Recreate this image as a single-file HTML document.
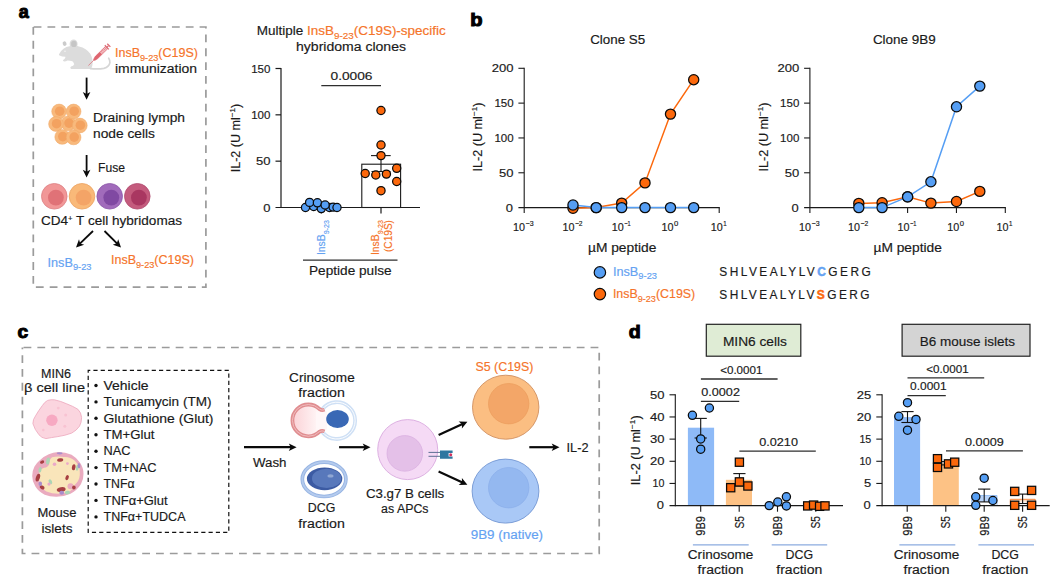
<!DOCTYPE html>
<html><head><meta charset="utf-8"><title>Figure</title>
<style>html,body{margin:0;padding:0;background:#fff;}svg{display:block;}text{font-family:"Liberation Sans",sans-serif;}</style>
</head><body>
<svg width="1059" height="580" viewBox="0 0 1059 580">
<rect width="1059" height="580" fill="#fff"/>
<text x="18.8" y="17.6" font-size="18" fill="#000" text-anchor="start" font-weight="bold" stroke="#000" stroke-width="1.0">a</text>
<path d="M33.3 27 V287.2 H205.9 V27 H33.3" fill="none" stroke="#9b9b9b" stroke-width="1.7" stroke-dasharray="7.8 6.03"/>
<g fill="#dcdcdc" stroke="none">
<path d="M59 54.2 Q60.5 51 63.5 48.8 Q66.5 46 70 46.2 Q74 44.8 79 46.4 Q86.5 48 90.5 54 Q93.5 60 92.3 65.8 Q91.8 68 90.5 69 L71 69 Q69.5 68 71 66.6 Q73.5 66 74.2 64.3 Q73.6 62.3 72.4 61.2 Q70 60.6 67.5 60.4 Q65 62 63 61 Q62.6 59.8 64.5 59 Q65.5 58 65.4 56.8 Q62 56.8 59.6 55.6 Q58.7 55 59 54.2Z"/>
<ellipse cx="73.6" cy="43.9" rx="4" ry="4.3"/>
<ellipse cx="73.9" cy="43.9" rx="2.8" ry="3.2" fill="#c6c6c6"/>
<ellipse cx="64.6" cy="43.6" rx="1.9" ry="2.3" fill="#cbcbcb" transform="rotate(-20 64.6 43.6)"/>
<circle cx="65" cy="51.3" r="0.8" fill="#f4f4f4"/>
</g>
<path d="M90.5 68.6 Q98 69.4 103.9 68.4 Q109.2 66.8 109.9 62.6 Q110 60.2 108.7 58.2" fill="none" stroke="#d6d6d6" stroke-width="1.7" stroke-linecap="round"/>
<g transform="translate(88.4,65.5) rotate(-44.6)">
<line x1="0" y1="0" x2="9" y2="0" stroke="#de7a82" stroke-width="0.8"/>
<path d="M8 -0.7 L11.5 -1.6 H25.6 V1.6 H11.5 L8 0.7Z" fill="#f4bcc0" stroke="#dc6b75" stroke-width="0.7"/>
<path d="M8 -0.7 L11.5 -1.6 H17.5 V1.6 H11.5 L8 0.7Z" fill="#df6670"/>
<line x1="19" y1="-1.6" x2="19" y2="0.6" stroke="#dc6b75" stroke-width="0.6"/>
<line x1="20.8" y1="-1.6" x2="20.8" y2="0.6" stroke="#dc6b75" stroke-width="0.6"/>
<line x1="22.6" y1="-1.6" x2="22.6" y2="0.6" stroke="#dc6b75" stroke-width="0.6"/>
<line x1="24.2" y1="-1.6" x2="24.2" y2="0.6" stroke="#dc6b75" stroke-width="0.6"/>
<line x1="25.9" y1="-2.9" x2="25.9" y2="2.9" stroke="#dc6b75" stroke-width="1.2"/>
<line x1="25.9" y1="0" x2="28.3" y2="0" stroke="#dc6b75" stroke-width="1.2"/>
<line x1="28.7" y1="-2.2" x2="28.7" y2="2.2" stroke="#dc6b75" stroke-width="1.3"/>
</g>
<text x="115" y="57" font-size="12.3" fill="#F5742A" text-anchor="start" font-weight="normal" textLength="83" lengthAdjust="spacingAndGlyphs"  stroke="#F5742A" stroke-width="0.16">InsB<tspan font-size="9" dy="3.7">9-23</tspan><tspan dy="-3.7" font-size="1">&#8203;</tspan>(C19S)</text>
<text x="115" y="72.5" font-size="12.3" fill="#1a1a1a" text-anchor="start" font-weight="normal" textLength="82" lengthAdjust="spacingAndGlyphs"  stroke="#1a1a1a" stroke-width="0.16">immunization</text>
<line x1="86.6" y1="77.6" x2="86.6" y2="94.4" stroke="#0a0a0a" stroke-width="1.8"/>
<path d="M86.6 99.8 L82.8 92.0 L86.6 93.9 L90.4 92.0 Z" fill="#0a0a0a"/>
<circle cx="68.4" cy="123.4" r="7.4" fill="#f8b97c" stroke="#efa968" stroke-width="0.5"/>
<circle cx="69.0" cy="123.10000000000001" r="4.8" fill="#f3a260"/>
<circle cx="59.1" cy="111.5" r="7.4" fill="#f8b97c" stroke="#efa968" stroke-width="0.5"/>
<circle cx="59.7" cy="111.2" r="4.8" fill="#f3a260"/>
<circle cx="73.6" cy="111.5" r="7.4" fill="#f8b97c" stroke="#efa968" stroke-width="0.5"/>
<circle cx="74.19999999999999" cy="111.2" r="4.8" fill="#f3a260"/>
<circle cx="56" cy="124" r="7.4" fill="#f8b97c" stroke="#efa968" stroke-width="0.5"/>
<circle cx="56.6" cy="123.7" r="4.8" fill="#f3a260"/>
<circle cx="79.8" cy="125.5" r="7.4" fill="#f8b97c" stroke="#efa968" stroke-width="0.5"/>
<circle cx="80.39999999999999" cy="125.2" r="4.8" fill="#f3a260"/>
<circle cx="62.2" cy="136.9" r="7.4" fill="#f8b97c" stroke="#efa968" stroke-width="0.5"/>
<circle cx="62.800000000000004" cy="136.6" r="4.8" fill="#f3a260"/>
<circle cx="73.6" cy="137.4" r="7.4" fill="#f8b97c" stroke="#efa968" stroke-width="0.5"/>
<circle cx="74.19999999999999" cy="137.1" r="4.8" fill="#f3a260"/>
<text x="93" y="121.5" font-size="12.3" fill="#1a1a1a" text-anchor="start" font-weight="normal" textLength="92" lengthAdjust="spacingAndGlyphs"  stroke="#1a1a1a" stroke-width="0.16">Draining lymph</text>
<text x="93" y="137.5" font-size="12.3" fill="#1a1a1a" text-anchor="start" font-weight="normal" textLength="62" lengthAdjust="spacingAndGlyphs"  stroke="#1a1a1a" stroke-width="0.16">node cells</text>
<line x1="86.6" y1="155.0" x2="86.6" y2="172.2" stroke="#0a0a0a" stroke-width="1.8"/>
<path d="M86.6 177.6 L82.8 169.8 L86.6 171.7 L90.4 169.8 Z" fill="#0a0a0a"/>
<text x="98" y="172" font-size="12.3" fill="#1a1a1a" text-anchor="start" font-weight="normal" textLength="27" lengthAdjust="spacingAndGlyphs"  stroke="#1a1a1a" stroke-width="0.16">Fuse</text>
<circle cx="54.3" cy="196.3" r="12.8" fill="#f19797" stroke="#dc8084" stroke-width="0.8"/>
<circle cx="55.9" cy="197.6" r="7.9" fill="#e07277"/>
<circle cx="82" cy="196.3" r="12.8" fill="#f9b979" stroke="#eba261" stroke-width="0.8"/>
<circle cx="83.6" cy="197.6" r="7.9" fill="#f4a467"/>
<circle cx="109.7" cy="196.3" r="12.8" fill="#a16bbb" stroke="#8d58aa" stroke-width="0.8"/>
<circle cx="111.3" cy="197.6" r="7.9" fill="#8049a2"/>
<circle cx="137.3" cy="196.3" r="12.8" fill="#c45b7d" stroke="#b04a6e" stroke-width="0.8"/>
<circle cx="138.9" cy="197.6" r="7.9" fill="#a93761"/>
<text x="41" y="225" font-size="12.3" fill="#1a1a1a" text-anchor="start" font-weight="normal" textLength="141" lengthAdjust="spacingAndGlyphs"  stroke="#1a1a1a" stroke-width="0.16">CD4<tspan font-size="7" dy="-4.5">+</tspan><tspan dy="4.5" font-size="1">&#8203;</tspan> T cell hybridomas</text>
<line x1="93.0" y1="231.0" x2="79.9" y2="243.7" stroke="#0a0a0a" stroke-width="1.8"/>
<path d="M76.0 247.5 L79.0 239.3 L80.2 243.4 L84.2 244.8 Z" fill="#0a0a0a"/>
<line x1="104.5" y1="231.0" x2="117.2" y2="243.7" stroke="#0a0a0a" stroke-width="1.8"/>
<path d="M121.0 247.5 L112.8 244.7 L116.8 243.3 L118.2 239.3 Z" fill="#0a0a0a"/>
<text x="47.5" y="266.5" font-size="12.3" fill="#64A2F2" text-anchor="start" font-weight="normal" textLength="44" lengthAdjust="spacingAndGlyphs"  stroke="#64A2F2" stroke-width="0.16">InsB<tspan font-size="9" dy="3.7">9-23</tspan><tspan dy="-3.7" font-size="1">&#8203;</tspan></text>
<text x="111" y="264" font-size="12.3" fill="#F5742A" text-anchor="start" font-weight="normal" textLength="83" lengthAdjust="spacingAndGlyphs"  stroke="#F5742A" stroke-width="0.16">InsB<tspan font-size="9" dy="3.7">9-23</tspan><tspan dy="-3.7" font-size="1">&#8203;</tspan>(C19S)</text>
<text x="256.8" y="35" font-size="12.3" fill="#1a1a1a" text-anchor="start" font-weight="normal" textLength="189" lengthAdjust="spacingAndGlyphs"  stroke="#1a1a1a" stroke-width="0.16">Multiple <tspan fill="#F5742A" stroke="#F5742A" stroke-width="0.16">InsB<tspan font-size="9" dy="3.7">9-23</tspan><tspan dy="-3.7" font-size="1">&#8203;</tspan>(C19S)-specific</tspan></text>
<text x="351" y="51" font-size="12.3" fill="#1a1a1a" text-anchor="middle" font-weight="normal" textLength="110" lengthAdjust="spacingAndGlyphs"  stroke="#1a1a1a" stroke-width="0.16">hybridoma clones</text>
<line x1="281" y1="67.9" x2="281" y2="208.1" stroke="#1a1a1a" stroke-width="1.2" />
<line x1="275.5" y1="207.5" x2="420" y2="207.5" stroke="#1a1a1a" stroke-width="1.2" />
<line x1="275.5" y1="161.16666666666666" x2="281" y2="161.16666666666666" stroke="#1a1a1a" stroke-width="1.2" />
<line x1="275.5" y1="114.83333333333333" x2="281" y2="114.83333333333333" stroke="#1a1a1a" stroke-width="1.2" />
<line x1="275.5" y1="68.5" x2="281" y2="68.5" stroke="#1a1a1a" stroke-width="1.2" />
<text x="270.4" y="211.8" font-size="11" fill="#1a1a1a" text-anchor="end" font-weight="normal" textLength="7.2" lengthAdjust="spacingAndGlyphs"  stroke="#1a1a1a" stroke-width="0.16">0</text>
<text x="270.4" y="165.46666666666667" font-size="11" fill="#1a1a1a" text-anchor="end" font-weight="normal" textLength="14.5" lengthAdjust="spacingAndGlyphs"  stroke="#1a1a1a" stroke-width="0.16">50</text>
<text x="270.4" y="119.13333333333333" font-size="11" fill="#1a1a1a" text-anchor="end" font-weight="normal" textLength="19.2" lengthAdjust="spacingAndGlyphs"  stroke="#1a1a1a" stroke-width="0.16">100</text>
<text x="270.4" y="72.8" font-size="11" fill="#1a1a1a" text-anchor="end" font-weight="normal" textLength="19.2" lengthAdjust="spacingAndGlyphs"  stroke="#1a1a1a" stroke-width="0.16">150</text>
<line x1="321.3" y1="207.5" x2="321.3" y2="213.5" stroke="#1a1a1a" stroke-width="1.2" />
<line x1="381" y1="207.5" x2="381" y2="213.5" stroke="#1a1a1a" stroke-width="1.2" />
<text transform="translate(239.7,138) rotate(-90)" font-size="12.3" fill="#1a1a1a" text-anchor="middle" textLength="68.5" lengthAdjust="spacingAndGlyphs" stroke="#1a1a1a" stroke-width="0.16">IL-2 (U ml<tspan font-size="8" dy="-4.5">&#8722;1</tspan><tspan dy="4.5" font-size="1">&#8203;</tspan>)</text>
<rect x="361.8" y="164.2" width="38.8" height="43.3" fill="#fff" stroke="#1a1a1a" stroke-width="1.1"/>
<line x1="381" y1="155.6" x2="381" y2="171.5" stroke="#1a1a1a" stroke-width="1.1" />
<line x1="371" y1="155.6" x2="390.7" y2="155.6" stroke="#1a1a1a" stroke-width="1.1" />
<line x1="371.5" y1="171.5" x2="390.5" y2="171.5" stroke="#1a1a1a" stroke-width="1.1" />
<text x="351.5" y="80" font-size="11" fill="#1a1a1a" text-anchor="middle" font-weight="normal" textLength="42" lengthAdjust="spacingAndGlyphs"  stroke="#1a1a1a" stroke-width="0.16">0.0006</text>
<line x1="321.3" y1="85.6" x2="381" y2="85.6" stroke="#2e2e2e" stroke-width="1.3" />
<circle cx="305.5" cy="207.5" r="4.1" fill="#559EF4" stroke="#0a0a0a" stroke-width="1.25" />
<circle cx="313.7" cy="206.5" r="4.1" fill="#559EF4" stroke="#0a0a0a" stroke-width="1.25" />
<circle cx="309.6" cy="202.4" r="4.1" fill="#559EF4" stroke="#0a0a0a" stroke-width="1.25" />
<circle cx="321.3" cy="208.6" r="4.1" fill="#559EF4" stroke="#0a0a0a" stroke-width="1.25" />
<circle cx="317.4" cy="202.8" r="4.1" fill="#559EF4" stroke="#0a0a0a" stroke-width="1.25" />
<circle cx="329.5" cy="207.5" r="4.1" fill="#559EF4" stroke="#0a0a0a" stroke-width="1.25" />
<circle cx="333.1" cy="207.1" r="4.1" fill="#559EF4" stroke="#0a0a0a" stroke-width="1.25" />
<circle cx="337.0" cy="207.5" r="4.1" fill="#559EF4" stroke="#0a0a0a" stroke-width="1.25" />
<circle cx="325.1" cy="205.0" r="4.1" fill="#559EF4" stroke="#0a0a0a" stroke-width="1.25" />
<circle cx="381.0" cy="110.5" r="4.1" fill="#FC680C" stroke="#0a0a0a" stroke-width="1.25" />
<circle cx="381.0" cy="145.0" r="4.1" fill="#FC680C" stroke="#0a0a0a" stroke-width="1.25" />
<circle cx="381.0" cy="155.6" r="4.1" fill="#FC680C" stroke="#0a0a0a" stroke-width="1.25" />
<circle cx="396.7" cy="168.3" r="4.1" fill="#FC680C" stroke="#0a0a0a" stroke-width="1.25" />
<circle cx="365.2" cy="173.5" r="4.1" fill="#FC680C" stroke="#0a0a0a" stroke-width="1.25" />
<circle cx="375.8" cy="175.0" r="4.1" fill="#FC680C" stroke="#0a0a0a" stroke-width="1.25" />
<circle cx="386.4" cy="174.1" r="4.1" fill="#FC680C" stroke="#0a0a0a" stroke-width="1.25" />
<circle cx="396.7" cy="181.5" r="4.1" fill="#FC680C" stroke="#0a0a0a" stroke-width="1.25" />
<circle cx="381.0" cy="190.7" r="4.1" fill="#FC680C" stroke="#0a0a0a" stroke-width="1.25" />
<text transform="translate(324.5,255.1) rotate(-90)" font-size="11.3" fill="#64A2F2" textLength="35" lengthAdjust="spacingAndGlyphs" stroke="#64A2F2" stroke-width="0.16">InsB<tspan font-size="7.7" dy="4.3">9-23</tspan><tspan dy="-4.3" font-size="1">&#8203;</tspan></text>
<text transform="translate(378.9,255.1) rotate(-90)" font-size="11.3" fill="#F5742A" textLength="35" lengthAdjust="spacingAndGlyphs" stroke="#F5742A" stroke-width="0.16">InsB<tspan font-size="7.7" dy="4.3">9-23</tspan><tspan dy="-4.3" font-size="1">&#8203;</tspan></text>
<text transform="translate(391.8,252) rotate(-90)" font-size="11.3" fill="#F5742A" textLength="32" lengthAdjust="spacingAndGlyphs" stroke="#F5742A" stroke-width="0.16">(C19S)</text>
<line x1="303" y1="260.2" x2="397.5" y2="260.2" stroke="#2e2e2e" stroke-width="1.3" />
<text x="350.3" y="274.5" font-size="12.3" fill="#1a1a1a" text-anchor="middle" font-weight="normal" textLength="82.6" lengthAdjust="spacingAndGlyphs"  stroke="#1a1a1a" stroke-width="0.16">Peptide pulse</text>
<text x="470.2" y="25.5" font-size="18" fill="#000" text-anchor="start" font-weight="bold" textLength="12.3" lengthAdjust="spacingAndGlyphs" stroke="#000" stroke-width="1.0">b</text>
<text x="617.7" y="44" font-size="12.3" fill="#1a1a1a" text-anchor="middle" font-weight="normal" textLength="55" lengthAdjust="spacingAndGlyphs"  stroke="#1a1a1a" stroke-width="0.16">Clone S5</text>
<line x1="524.2" y1="67.75" x2="524.2" y2="213.0" stroke="#1a1a1a" stroke-width="1.1" />
<line x1="518.4000000000001" y1="207.6" x2="719.75" y2="207.6" stroke="#1a1a1a" stroke-width="1.1" />
<line x1="518.4000000000001" y1="172.77499999999998" x2="524.2" y2="172.77499999999998" stroke="#1a1a1a" stroke-width="1.1" />
<line x1="518.4000000000001" y1="137.95" x2="524.2" y2="137.95" stroke="#1a1a1a" stroke-width="1.1" />
<line x1="518.4000000000001" y1="103.125" x2="524.2" y2="103.125" stroke="#1a1a1a" stroke-width="1.1" />
<line x1="518.4000000000001" y1="68.29999999999998" x2="524.2" y2="68.29999999999998" stroke="#1a1a1a" stroke-width="1.1" />
<text x="512.9000000000001" y="211.5" font-size="11" fill="#1a1a1a" text-anchor="end" font-weight="normal" textLength="7.2" lengthAdjust="spacingAndGlyphs"  stroke="#1a1a1a" stroke-width="0.16">0</text>
<text x="513.6" y="176.67499999999998" font-size="11" fill="#1a1a1a" text-anchor="end" font-weight="normal" textLength="14.5" lengthAdjust="spacingAndGlyphs"  stroke="#1a1a1a" stroke-width="0.16">50</text>
<text x="513.6" y="141.85" font-size="11" fill="#1a1a1a" text-anchor="end" font-weight="normal" textLength="19.2" lengthAdjust="spacingAndGlyphs"  stroke="#1a1a1a" stroke-width="0.16">100</text>
<text x="513.6" y="107.025" font-size="11" fill="#1a1a1a" text-anchor="end" font-weight="normal" textLength="19.2" lengthAdjust="spacingAndGlyphs"  stroke="#1a1a1a" stroke-width="0.16">150</text>
<text x="513.6" y="72.19999999999999" font-size="11" fill="#1a1a1a" text-anchor="end" font-weight="normal" textLength="21.8" lengthAdjust="spacingAndGlyphs"  stroke="#1a1a1a" stroke-width="0.16">200</text>
<text x="513.1" y="230.8" font-size="11" fill="#1a1a1a" text-anchor="start" font-weight="normal" textLength="12.0" lengthAdjust="spacingAndGlyphs"  stroke="#1a1a1a" stroke-width="0.16">10</text>
<text x="525.6" y="225.6" font-size="7" fill="#1a1a1a" text-anchor="start" font-weight="normal" textLength="8.0" lengthAdjust="spacingAndGlyphs"  stroke="#1a1a1a" stroke-width="0.16">&#8722;3</text>
<line x1="572.95" y1="207.6" x2="572.95" y2="213.0" stroke="#1a1a1a" stroke-width="1.1" />
<text x="562.4" y="230.8" font-size="11" fill="#1a1a1a" text-anchor="start" font-weight="normal" textLength="12.0" lengthAdjust="spacingAndGlyphs"  stroke="#1a1a1a" stroke-width="0.16">10</text>
<text x="574.9" y="225.6" font-size="7" fill="#1a1a1a" text-anchor="start" font-weight="normal" textLength="7.6000000000000005" lengthAdjust="spacingAndGlyphs"  stroke="#1a1a1a" stroke-width="0.16">&#8722;2</text>
<line x1="621.7" y1="207.6" x2="621.7" y2="213.0" stroke="#1a1a1a" stroke-width="1.1" />
<text x="611.8" y="230.8" font-size="11" fill="#1a1a1a" text-anchor="start" font-weight="normal" textLength="12.0" lengthAdjust="spacingAndGlyphs"  stroke="#1a1a1a" stroke-width="0.16">10</text>
<text x="624.3" y="225.6" font-size="7" fill="#1a1a1a" text-anchor="start" font-weight="normal" textLength="6.4" lengthAdjust="spacingAndGlyphs"  stroke="#1a1a1a" stroke-width="0.16">&#8722;1</text>
<line x1="670.45" y1="207.6" x2="670.45" y2="213.0" stroke="#1a1a1a" stroke-width="1.1" />
<text x="661.55" y="230.8" font-size="11" fill="#1a1a1a" text-anchor="start" font-weight="normal" textLength="12.0" lengthAdjust="spacingAndGlyphs"  stroke="#1a1a1a" stroke-width="0.16">10</text>
<text x="674.05" y="225.6" font-size="7" fill="#1a1a1a" text-anchor="start" font-weight="normal" textLength="4.3" lengthAdjust="spacingAndGlyphs"  stroke="#1a1a1a" stroke-width="0.16">0</text>
<line x1="719.2" y1="207.6" x2="719.2" y2="213.0" stroke="#1a1a1a" stroke-width="1.1" />
<text x="710.8" y="230.8" font-size="11" fill="#1a1a1a" text-anchor="start" font-weight="normal" textLength="12.0" lengthAdjust="spacingAndGlyphs"  stroke="#1a1a1a" stroke-width="0.16">10</text>
<text x="723.3" y="225.6" font-size="7" fill="#1a1a1a" text-anchor="start" font-weight="normal" textLength="3.4" lengthAdjust="spacingAndGlyphs"  stroke="#1a1a1a" stroke-width="0.16">1</text>
<text x="622.2" y="252" font-size="12.3" fill="#1a1a1a" text-anchor="middle" font-weight="normal" textLength="68.5" lengthAdjust="spacingAndGlyphs"  stroke="#1a1a1a" stroke-width="0.16">&#181;M peptide</text>
<text transform="translate(481.9,137) rotate(-90)" font-size="12.3" fill="#1a1a1a" text-anchor="middle" textLength="69" lengthAdjust="spacingAndGlyphs" stroke="#1a1a1a" stroke-width="0.16">IL-2 (U ml<tspan font-size="8" dy="-4.8">&#8722;1</tspan><tspan dy="4.8" font-size="1">&#8203;</tspan>)</text>
<polyline points="573.0,208.3 596.2,207.6 621.7,203.1 645.0,182.9 670.5,114.1 693.7,79.7" fill="none" stroke="#FC680C" stroke-width="1.5"/>
<circle cx="573.0" cy="208.3" r="5.1" fill="#FC680C" stroke="#0a0a0a" stroke-width="1.25" />
<circle cx="596.2" cy="207.6" r="5.1" fill="#FC680C" stroke="#0a0a0a" stroke-width="1.25" />
<circle cx="621.7" cy="203.1" r="5.1" fill="#FC680C" stroke="#0a0a0a" stroke-width="1.25" />
<circle cx="645.0" cy="182.9" r="5.1" fill="#FC680C" stroke="#0a0a0a" stroke-width="1.25" />
<circle cx="670.5" cy="114.1" r="5.1" fill="#FC680C" stroke="#0a0a0a" stroke-width="1.25" />
<circle cx="693.7" cy="79.7" r="5.1" fill="#FC680C" stroke="#0a0a0a" stroke-width="1.25" />
<polyline points="573.0,205.0 596.2,207.6 621.7,207.6 645.0,207.6 670.5,207.6 693.7,207.6" fill="none" stroke="#559EF4" stroke-width="1.5"/>
<circle cx="573.0" cy="205.0" r="5.1" fill="#559EF4" stroke="#0a0a0a" stroke-width="1.25" />
<circle cx="596.2" cy="207.6" r="5.1" fill="#559EF4" stroke="#0a0a0a" stroke-width="1.25" />
<circle cx="621.7" cy="207.6" r="5.1" fill="#559EF4" stroke="#0a0a0a" stroke-width="1.25" />
<circle cx="645.0" cy="207.6" r="5.1" fill="#559EF4" stroke="#0a0a0a" stroke-width="1.25" />
<circle cx="670.5" cy="207.6" r="5.1" fill="#559EF4" stroke="#0a0a0a" stroke-width="1.25" />
<circle cx="693.7" cy="207.6" r="5.1" fill="#559EF4" stroke="#0a0a0a" stroke-width="1.25" />
<text x="904.3" y="44" font-size="12.3" fill="#1a1a1a" text-anchor="middle" font-weight="normal" textLength="62.8" lengthAdjust="spacingAndGlyphs"  stroke="#1a1a1a" stroke-width="0.16">Clone 9B9</text>
<line x1="809.9" y1="67.75" x2="809.9" y2="213.0" stroke="#1a1a1a" stroke-width="1.1" />
<line x1="804.1" y1="207.6" x2="1005.8499999999999" y2="207.6" stroke="#1a1a1a" stroke-width="1.1" />
<line x1="804.1" y1="172.77499999999998" x2="809.9" y2="172.77499999999998" stroke="#1a1a1a" stroke-width="1.1" />
<line x1="804.1" y1="137.95" x2="809.9" y2="137.95" stroke="#1a1a1a" stroke-width="1.1" />
<line x1="804.1" y1="103.125" x2="809.9" y2="103.125" stroke="#1a1a1a" stroke-width="1.1" />
<line x1="804.1" y1="68.29999999999998" x2="809.9" y2="68.29999999999998" stroke="#1a1a1a" stroke-width="1.1" />
<text x="798.6" y="211.5" font-size="11" fill="#1a1a1a" text-anchor="end" font-weight="normal" textLength="7.2" lengthAdjust="spacingAndGlyphs"  stroke="#1a1a1a" stroke-width="0.16">0</text>
<text x="799.3" y="176.67499999999998" font-size="11" fill="#1a1a1a" text-anchor="end" font-weight="normal" textLength="14.5" lengthAdjust="spacingAndGlyphs"  stroke="#1a1a1a" stroke-width="0.16">50</text>
<text x="799.3" y="141.85" font-size="11" fill="#1a1a1a" text-anchor="end" font-weight="normal" textLength="19.2" lengthAdjust="spacingAndGlyphs"  stroke="#1a1a1a" stroke-width="0.16">100</text>
<text x="799.3" y="107.025" font-size="11" fill="#1a1a1a" text-anchor="end" font-weight="normal" textLength="19.2" lengthAdjust="spacingAndGlyphs"  stroke="#1a1a1a" stroke-width="0.16">150</text>
<text x="799.3" y="72.19999999999999" font-size="11" fill="#1a1a1a" text-anchor="end" font-weight="normal" textLength="21.8" lengthAdjust="spacingAndGlyphs"  stroke="#1a1a1a" stroke-width="0.16">200</text>
<text x="799.1" y="230.8" font-size="11" fill="#1a1a1a" text-anchor="start" font-weight="normal" textLength="12.0" lengthAdjust="spacingAndGlyphs"  stroke="#1a1a1a" stroke-width="0.16">10</text>
<text x="811.6" y="225.6" font-size="7" fill="#1a1a1a" text-anchor="start" font-weight="normal" textLength="8.0" lengthAdjust="spacingAndGlyphs"  stroke="#1a1a1a" stroke-width="0.16">&#8722;3</text>
<line x1="858.75" y1="207.6" x2="858.75" y2="213.0" stroke="#1a1a1a" stroke-width="1.1" />
<text x="848.1" y="230.8" font-size="11" fill="#1a1a1a" text-anchor="start" font-weight="normal" textLength="12.0" lengthAdjust="spacingAndGlyphs"  stroke="#1a1a1a" stroke-width="0.16">10</text>
<text x="860.6" y="225.6" font-size="7" fill="#1a1a1a" text-anchor="start" font-weight="normal" textLength="7.6000000000000005" lengthAdjust="spacingAndGlyphs"  stroke="#1a1a1a" stroke-width="0.16">&#8722;2</text>
<line x1="907.6" y1="207.6" x2="907.6" y2="213.0" stroke="#1a1a1a" stroke-width="1.1" />
<text x="897.5" y="230.8" font-size="11" fill="#1a1a1a" text-anchor="start" font-weight="normal" textLength="12.0" lengthAdjust="spacingAndGlyphs"  stroke="#1a1a1a" stroke-width="0.16">10</text>
<text x="910.0" y="225.6" font-size="7" fill="#1a1a1a" text-anchor="start" font-weight="normal" textLength="6.4" lengthAdjust="spacingAndGlyphs"  stroke="#1a1a1a" stroke-width="0.16">&#8722;1</text>
<line x1="956.45" y1="207.6" x2="956.45" y2="213.0" stroke="#1a1a1a" stroke-width="1.1" />
<text x="947.3499999999999" y="230.8" font-size="11" fill="#1a1a1a" text-anchor="start" font-weight="normal" textLength="12.0" lengthAdjust="spacingAndGlyphs"  stroke="#1a1a1a" stroke-width="0.16">10</text>
<text x="959.8499999999999" y="225.6" font-size="7" fill="#1a1a1a" text-anchor="start" font-weight="normal" textLength="4.3" lengthAdjust="spacingAndGlyphs"  stroke="#1a1a1a" stroke-width="0.16">0</text>
<line x1="1005.3" y1="207.6" x2="1005.3" y2="213.0" stroke="#1a1a1a" stroke-width="1.1" />
<text x="996.6" y="230.8" font-size="11" fill="#1a1a1a" text-anchor="start" font-weight="normal" textLength="12.0" lengthAdjust="spacingAndGlyphs"  stroke="#1a1a1a" stroke-width="0.16">10</text>
<text x="1009.1" y="225.6" font-size="7" fill="#1a1a1a" text-anchor="start" font-weight="normal" textLength="3.4" lengthAdjust="spacingAndGlyphs"  stroke="#1a1a1a" stroke-width="0.16">1</text>
<text x="907.7" y="252" font-size="12.3" fill="#1a1a1a" text-anchor="middle" font-weight="normal" textLength="68.5" lengthAdjust="spacingAndGlyphs"  stroke="#1a1a1a" stroke-width="0.16">&#181;M peptide</text>
<text transform="translate(767.6,137) rotate(-90)" font-size="12.3" fill="#1a1a1a" text-anchor="middle" textLength="69" lengthAdjust="spacingAndGlyphs" stroke="#1a1a1a" stroke-width="0.16">IL-2 (U ml<tspan font-size="8" dy="-4.8">&#8722;1</tspan><tspan dy="4.8" font-size="1">&#8203;</tspan>)</text>
<polyline points="858.8,203.4 882.1,202.7 907.6,196.7 930.9,203.1 956.5,201.5 979.8,191.4" fill="none" stroke="#FC680C" stroke-width="1.5"/>
<circle cx="858.8" cy="203.4" r="5.1" fill="#FC680C" stroke="#0a0a0a" stroke-width="1.25" />
<circle cx="882.1" cy="202.7" r="5.1" fill="#FC680C" stroke="#0a0a0a" stroke-width="1.25" />
<circle cx="907.6" cy="196.7" r="5.1" fill="#FC680C" stroke="#0a0a0a" stroke-width="1.25" />
<circle cx="930.9" cy="203.1" r="5.1" fill="#FC680C" stroke="#0a0a0a" stroke-width="1.25" />
<circle cx="956.5" cy="201.5" r="5.1" fill="#FC680C" stroke="#0a0a0a" stroke-width="1.25" />
<circle cx="979.8" cy="191.4" r="5.1" fill="#FC680C" stroke="#0a0a0a" stroke-width="1.25" />
<polyline points="858.8,207.6 882.1,207.6 907.6,196.9 930.9,181.8 956.5,106.8 979.8,86.1" fill="none" stroke="#559EF4" stroke-width="1.5"/>
<circle cx="858.8" cy="207.6" r="5.1" fill="#559EF4" stroke="#0a0a0a" stroke-width="1.25" />
<circle cx="882.1" cy="207.6" r="5.1" fill="#559EF4" stroke="#0a0a0a" stroke-width="1.25" />
<circle cx="907.6" cy="196.9" r="5.1" fill="#559EF4" stroke="#0a0a0a" stroke-width="1.25" />
<circle cx="930.9" cy="181.8" r="5.1" fill="#559EF4" stroke="#0a0a0a" stroke-width="1.25" />
<circle cx="956.5" cy="106.8" r="5.1" fill="#559EF4" stroke="#0a0a0a" stroke-width="1.25" />
<circle cx="979.8" cy="86.1" r="5.1" fill="#559EF4" stroke="#0a0a0a" stroke-width="1.25" />
<circle cx="599.9" cy="272.4" r="5.7" fill="#559EF4" stroke="#0a0a0a" stroke-width="1.2" />
<circle cx="599.9" cy="294.1" r="5.7" fill="#FC680C" stroke="#0a0a0a" stroke-width="1.2" />
<text x="612.9" y="275.6" font-size="12.3" fill="#64A2F2" text-anchor="start" font-weight="normal" textLength="44.1" lengthAdjust="spacingAndGlyphs"  stroke="#64A2F2" stroke-width="0.16">InsB<tspan font-size="9" dy="3.7">9-23</tspan><tspan dy="-3.7" font-size="1">&#8203;</tspan></text>
<text x="612.9" y="298.4" font-size="12.3" fill="#F5742A" text-anchor="start" font-weight="normal" textLength="82.3" lengthAdjust="spacingAndGlyphs"  stroke="#F5742A" stroke-width="0.16">InsB<tspan font-size="9" dy="3.7">9-23</tspan><tspan dy="-3.7" font-size="1">&#8203;</tspan>(C19S)</text>
<text x="719.3" y="275.7" font-size="11.9" fill="#1a1a1a" text-anchor="start" font-weight="normal" textLength="151.4" lengthAdjust="spacing" stroke="#1a1a1a" stroke-width="0.16">SHLVEALYLV<tspan fill="#64A2F2" font-weight="bold" stroke="#64A2F2" stroke-width="0.5">C</tspan>GERG</text>
<text x="719.3" y="298.8" font-size="11.9" fill="#1a1a1a" text-anchor="start" font-weight="normal" textLength="150.2" lengthAdjust="spacing" stroke="#1a1a1a" stroke-width="0.16">SHLVEALYLV<tspan fill="#FC680C" font-weight="bold" stroke="#FC680C" stroke-width="0.5">S</tspan>GERG</text>
<text x="17.5" y="337.6" font-size="18" fill="#000" text-anchor="start" font-weight="bold" textLength="10.7" lengthAdjust="spacingAndGlyphs" stroke="#000" stroke-width="1.0">c</text>
<path d="M22.4 347.5 V553.5 H599.2 V347.5 H22.4" fill="none" stroke="#9b9b9b" stroke-width="1.7" stroke-dasharray="7.8 6.03" stroke-dashoffset="6.13"/>
<rect x="88.2" y="370.4" width="140.6" height="162" fill="none" stroke="#111" stroke-width="1.2" stroke-dasharray="4.19 3.1" stroke-dashoffset="2.1"/>
<text x="56" y="378" font-size="12.3" fill="#1a1a1a" text-anchor="middle" font-weight="normal" textLength="30" lengthAdjust="spacingAndGlyphs"  stroke="#1a1a1a" stroke-width="0.16">MIN6</text>
<text x="54.5" y="391.5" font-size="12.3" fill="#1a1a1a" text-anchor="middle" font-weight="normal" textLength="61" lengthAdjust="spacingAndGlyphs"  stroke="#1a1a1a" stroke-width="0.16">&#946; cell line</text>
<path d="M47.6 400.4 Q51 399.4 54.5 399.8 Q61 401.2 66.6 403.8 Q73 406.2 77.8 409.2 Q81.3 412.5 81.6 417.6 Q81.6 422.5 79.5 426.2 Q76.5 430.5 71.7 433.1 Q65 435.6 57.9 436.6 Q51 437.6 45.9 438.6 Q41.5 438 39 434.8 Q34.6 429.5 32.9 423.6 Q32.8 419.5 35.5 415.9 Q38.6 410.5 42.4 405.5 Q44.6 402 47.6 400.4Z" fill="#fbd5df" stroke="#eca6bb" stroke-width="0.8"/>
<circle cx="51.9" cy="420.2" r="5.7" fill="#f7a9c2"/>
<circle cx="58.3" cy="408.1" r="1.4" fill="#f8c3d2"/>
<circle cx="65.7" cy="415" r="1.5" fill="#f8c3d2"/>
<circle cx="64.8" cy="426.2" r="1.5" fill="#f8c3d2"/>
<circle cx="43.3" cy="430" r="1.3" fill="#f8c3d2"/>
<path d="M58.1 452 Q65.5 452 71.6 454.8 Q77 458 79.9 462.6 Q83.6 468 83.5 474 Q83.6 479.5 80.9 484.3 Q77 490.5 70.5 493.7 Q63.5 496.9 56 496.8 Q49.5 496.8 44.7 494.7 Q38.5 491.5 35.4 486.4 Q32.1 481.5 32.2 476 Q32.3 470.5 34.5 466.5 Q36.5 463 39.5 460.5 Q43.5 456.5 48.8 454.3 Q53 452.2 58.1 452Z" fill="#eaabbf"/>
<path d="M52 457.2 Q58 455.8 64 457 Q70 456.6 74.5 460.5 Q79.6 465 79.8 472 Q80.3 479 76.5 483 Q74.5 484.5 73 488.5 Q69 493 61 493.6 Q53 494.2 46.5 491.5 Q41 488.5 39.5 482.5 Q38 476 39.8 471 Q42 467.5 46 467.5 Q49.5 466 49.5 461.5 Q50 458.5 52 457.2Z" fill="#f9e5ba"/>
<circle cx="70.5" cy="486.2" r="3" fill="#eaabbf"/>
<ellipse cx="60.2" cy="460" rx="3.1" ry="1.8" fill="#a73f42" transform="rotate(-8 60.2 460)"/>
<ellipse cx="42.1" cy="462.1" rx="2.2" ry="1.5" fill="#a73f42" transform="rotate(-25 42.1 462.1)"/>
<ellipse cx="73.7" cy="467.3" rx="1.8" ry="3" fill="#a73f42" transform="rotate(8 73.7 467.3)"/>
<ellipse cx="37.9" cy="477.6" rx="2" ry="4" fill="#a73f42" transform="rotate(18 37.9 477.6)"/>
<ellipse cx="67.1" cy="477.6" rx="1.6" ry="2.6" fill="#a73f42" transform="rotate(22 67.1 477.6)"/>
<ellipse cx="42.1" cy="487.4" rx="2.6" ry="1.8" fill="#a73f42" transform="rotate(30 42.1 487.4)"/>
<ellipse cx="61.2" cy="489.5" rx="4.5" ry="2.4" fill="#a73f42" transform="rotate(-10 61.2 489.5)"/>
<ellipse cx="73.9" cy="487.4" rx="1.8" ry="2" fill="#a73f42" transform="rotate(0 73.9 487.4)"/>
<ellipse cx="48" cy="461" rx="1.8" ry="3.6" fill="#acd6b5" transform="rotate(10 48 461)"/>
<ellipse cx="40" cy="469.8" rx="1.5" ry="2.8" fill="#acd6b5" transform="rotate(8 40 469.8)"/>
<ellipse cx="77.3" cy="467.8" rx="1.4" ry="3" fill="#acd6b5" transform="rotate(8 77.3 467.8)"/>
<ellipse cx="50.4" cy="481.8" rx="1.6" ry="2.6" fill="#acd6b5" transform="rotate(-25 50.4 481.8)"/>
<ellipse cx="67.4" cy="492.6" rx="2.6" ry="1.8" fill="#acd6b5" transform="rotate(-10 67.4 492.6)"/>
<ellipse cx="59.7" cy="453.3" rx="3" ry="1.1" fill="#a98dcb"/>
<ellipse cx="79" cy="465.7" rx="1.4" ry="2.6" fill="#a98dcb"/>
<ellipse cx="40.3" cy="483.8" rx="1.8" ry="2.2" fill="#a98dcb"/>
<ellipse cx="61.7" cy="492.8" rx="2.4" ry="2" fill="#a98dcb"/>
<circle cx="54.5" cy="464.2" r="1.8" fill="#eba9c8"/>
<circle cx="67.4" cy="463.6" r="1.4" fill="#eba9c8"/>
<circle cx="49" cy="484.1" r="1.6" fill="#eba9c8"/>
<text x="57" y="517" font-size="12.3" fill="#1a1a1a" text-anchor="middle" font-weight="normal" textLength="39" lengthAdjust="spacingAndGlyphs"  stroke="#1a1a1a" stroke-width="0.16">Mouse</text>
<text x="57" y="533" font-size="12.3" fill="#1a1a1a" text-anchor="middle" font-weight="normal" textLength="31" lengthAdjust="spacingAndGlyphs"  stroke="#1a1a1a" stroke-width="0.16">islets</text>
<circle cx="96" cy="385.5" r="1.7" fill="#111"/>
<text x="103.5" y="389.7" font-size="12.3" fill="#1a1a1a" text-anchor="start" font-weight="normal" textLength="45" lengthAdjust="spacingAndGlyphs"  stroke="#1a1a1a" stroke-width="0.16">Vehicle</text>
<circle cx="96" cy="401.9" r="1.7" fill="#111"/>
<text x="103.5" y="406.1" font-size="12.3" fill="#1a1a1a" text-anchor="start" font-weight="normal" textLength="108" lengthAdjust="spacingAndGlyphs"  stroke="#1a1a1a" stroke-width="0.16">Tunicamycin (TM)</text>
<circle cx="96" cy="418.3" r="1.7" fill="#111"/>
<text x="103.5" y="422.5" font-size="12.3" fill="#1a1a1a" text-anchor="start" font-weight="normal" textLength="110" lengthAdjust="spacingAndGlyphs"  stroke="#1a1a1a" stroke-width="0.16">Glutathione (Glut)</text>
<circle cx="96" cy="434.8" r="1.7" fill="#111"/>
<text x="103.5" y="439.0" font-size="12.3" fill="#1a1a1a" text-anchor="start" font-weight="normal" textLength="51" lengthAdjust="spacingAndGlyphs"  stroke="#1a1a1a" stroke-width="0.16">TM+Glut</text>
<circle cx="96" cy="451.2" r="1.7" fill="#111"/>
<text x="103.5" y="455.4" font-size="12.3" fill="#1a1a1a" text-anchor="start" font-weight="normal" textLength="27" lengthAdjust="spacingAndGlyphs"  stroke="#1a1a1a" stroke-width="0.16">NAC</text>
<circle cx="96" cy="467.6" r="1.7" fill="#111"/>
<text x="103.5" y="471.8" font-size="12.3" fill="#1a1a1a" text-anchor="start" font-weight="normal" textLength="53" lengthAdjust="spacingAndGlyphs"  stroke="#1a1a1a" stroke-width="0.16">TM+NAC</text>
<circle cx="96" cy="484.0" r="1.7" fill="#111"/>
<text x="103.5" y="488.2" font-size="12.3" fill="#1a1a1a" text-anchor="start" font-weight="normal" textLength="31" lengthAdjust="spacingAndGlyphs"  stroke="#1a1a1a" stroke-width="0.16">TNF&#945;</text>
<circle cx="96" cy="500.4" r="1.7" fill="#111"/>
<text x="103.5" y="504.6" font-size="12.3" fill="#1a1a1a" text-anchor="start" font-weight="normal" textLength="64" lengthAdjust="spacingAndGlyphs"  stroke="#1a1a1a" stroke-width="0.16">TNF&#945;+Glut</text>
<circle cx="96" cy="516.9" r="1.7" fill="#111"/>
<text x="103.5" y="521.1" font-size="12.3" fill="#1a1a1a" text-anchor="start" font-weight="normal" textLength="82" lengthAdjust="spacingAndGlyphs"  stroke="#1a1a1a" stroke-width="0.16">TNF&#945;+TUDCA</text>
<line x1="244.0" y1="447.2" x2="291.2" y2="447.2" stroke="#0a0a0a" stroke-width="2.2"/>
<path d="M296.6 447.2 L288.8 451.0 L290.7 447.2 L288.8 443.4 Z" fill="#0a0a0a"/>
<text x="253" y="467.4" font-size="12.3" fill="#1a1a1a" text-anchor="start" font-weight="normal" textLength="33.5" lengthAdjust="spacingAndGlyphs"  stroke="#1a1a1a" stroke-width="0.16">Wash</text>
<text x="321.9" y="381.7" font-size="12.3" fill="#1a1a1a" text-anchor="middle" font-weight="normal" textLength="65.6" lengthAdjust="spacingAndGlyphs"  stroke="#1a1a1a" stroke-width="0.16">Crinosome</text>
<text x="321.6" y="397.4" font-size="12.3" fill="#1a1a1a" text-anchor="middle" font-weight="normal" textLength="46.5" lengthAdjust="spacingAndGlyphs"  stroke="#1a1a1a" stroke-width="0.16">fraction</text>
<defs><linearGradient id="gcr" x1="0" x2="1" y1="0" y2="0"><stop offset="0" stop-color="#fbd3d7"/><stop offset="0.75" stop-color="#fff4f5"/><stop offset="1" stop-color="#ffffff"/></linearGradient></defs>
<circle cx="336.6" cy="420.6" r="18.4" fill="#fff"/>
<circle cx="309.2" cy="420.4" r="15.9" fill="url(#gcr)"/>
<rect x="316" y="411.5" width="11" height="18" fill="#fff7f8"/>
<path d="M322.3 409.2 A18.4 18.4 0 1 1 322.3 432" fill="none" stroke="#cfe0f5" stroke-width="3.8"/>
<path d="M322.3 409.2 A18.4 18.4 0 1 1 322.3 432" fill="none" stroke="#fff" stroke-width="0.9"/>
<path d="M324.5 409.6 Q322 410.8 319.6 409.2 A15.9 15.9 0 1 0 319.6 431.6 Q322 430.2 324.5 431.4" fill="none" stroke="#e08d90" stroke-width="3.8"/>
<path d="M324.5 409.6 Q322 410.8 319.6 409.2 A15.9 15.9 0 1 0 319.6 431.6 Q322 430.2 324.5 431.4" fill="none" stroke="#f1bfc1" stroke-width="0.9"/>
<ellipse cx="337.5" cy="419" rx="11.3" ry="8.9" fill="#3968b5"/>
<line x1="339.1" y1="447.2" x2="365.1" y2="447.2" stroke="#0a0a0a" stroke-width="2.2"/>
<path d="M370.5 447.2 L362.7 451.0 L364.6 447.2 L362.7 443.4 Z" fill="#0a0a0a"/>
<ellipse cx="324.1" cy="479.3" rx="21.8" ry="17.2" fill="#fff" stroke="#98b5e3" stroke-width="3.7"/>
<ellipse cx="324.1" cy="479.3" rx="21.8" ry="17.2" fill="none" stroke="#b4cbee" stroke-width="1.7"/>
<ellipse cx="324.6" cy="478.8" rx="17.7" ry="11.4" fill="#3c5ba3"/>
<ellipse cx="326.6" cy="478.4" rx="14.6" ry="9.6" fill="#5878bb"/>
<ellipse cx="330.5" cy="475.9" rx="3" ry="1.7" fill="#90a7d3"/>
<text x="321.6" y="512.4" font-size="12.3" fill="#1a1a1a" text-anchor="middle" font-weight="normal" textLength="27.5" lengthAdjust="spacingAndGlyphs"  stroke="#1a1a1a" stroke-width="0.16">DCG</text>
<text x="321.6" y="528.3" font-size="12.3" fill="#1a1a1a" text-anchor="middle" font-weight="normal" textLength="46.5" lengthAdjust="spacingAndGlyphs"  stroke="#1a1a1a" stroke-width="0.16">fraction</text>
<circle cx="407.7" cy="449.6" r="30" fill="#f5daf5" stroke="#d9a9df" stroke-width="0.9"/>
<circle cx="404.8" cy="453.4" r="17.8" fill="#e4c0e8" stroke="#d9acdf" stroke-width="0.7"/>
<text x="405.1" y="497.9" font-size="12.3" fill="#1a1a1a" text-anchor="middle" font-weight="normal" textLength="78.3" lengthAdjust="spacingAndGlyphs"  stroke="#1a1a1a" stroke-width="0.16">C3.g7 B cells</text>
<text x="404.8" y="513.1" font-size="12.3" fill="#1a1a1a" text-anchor="middle" font-weight="normal" textLength="47.4" lengthAdjust="spacingAndGlyphs"  stroke="#1a1a1a" stroke-width="0.16">as APCs</text>
<line x1="428.5" y1="452.4" x2="441" y2="452.4" stroke="#5d6f93" stroke-width="1.0" />
<line x1="428.5" y1="456.3" x2="441" y2="456.3" stroke="#5d6f93" stroke-width="1.0" />
<path d="M440 450.5 H452.6 V453 H448.6 V456.4 H452.6 V458.7 H440Z" fill="#2f76a0"/>
<circle cx="450.7" cy="454.7" r="1.5" fill="#d2315c"/>
<line x1="438.6" y1="435.0" x2="462.5" y2="424.0" stroke="#0a0a0a" stroke-width="2.2"/>
<path d="M467.4 421.7 L461.9 428.4 L462.0 424.2 L458.7 421.5 Z" fill="#0a0a0a"/>
<line x1="438.6" y1="471.4" x2="462.5" y2="482.4" stroke="#0a0a0a" stroke-width="2.2"/>
<path d="M467.4 484.7 L458.7 484.9 L462.0 482.2 L461.9 478.0 Z" fill="#0a0a0a"/>
<ellipse cx="505.7" cy="407.2" rx="33.2" ry="32" fill="#fbbe82" stroke="#d09060" stroke-width="0.9"/>
<circle cx="508.7" cy="403.7" r="20.2" fill="#f3a668" stroke="#eb9c5c" stroke-width="0.7"/>
<ellipse cx="505.5" cy="491.1" rx="33.4" ry="32" fill="#a9c8f6" stroke="#7396d2" stroke-width="0.9"/>
<circle cx="508.7" cy="487.7" r="20.2" fill="#94b8f0" stroke="#8aaeea" stroke-width="0.7"/>
<text x="504.4" y="371.4" font-size="12.3" fill="#F5742A" text-anchor="middle" font-weight="normal" textLength="57.8" lengthAdjust="spacingAndGlyphs"  stroke="#F5742A" stroke-width="0.16">S5 (C19S)</text>
<text x="506.9" y="538.6" font-size="12.3" fill="#64A2F2" text-anchor="middle" font-weight="normal" textLength="72.4" lengthAdjust="spacingAndGlyphs"  stroke="#64A2F2" stroke-width="0.16">9B9 (native)</text>
<line x1="529.3" y1="447.2" x2="554.1" y2="447.2" stroke="#0a0a0a" stroke-width="2.2"/>
<path d="M559.5 447.2 L551.7 451.0 L553.6 447.2 L551.7 443.4 Z" fill="#0a0a0a"/>
<text x="566.5" y="451.5" font-size="12.3" fill="#1a1a1a" text-anchor="start" font-weight="normal" textLength="22" lengthAdjust="spacingAndGlyphs"  stroke="#1a1a1a" stroke-width="0.16">IL-2</text>
<text x="628.8" y="337.6" font-size="18" fill="#000" text-anchor="start" font-weight="bold" textLength="12.0" lengthAdjust="spacingAndGlyphs" stroke="#000" stroke-width="1.0">d</text>
<rect x="706.3" y="324.3" width="94.5" height="31.9" fill="#dfecd5" stroke="#222" stroke-width="1.2"/>
<text x="754.9499999999999" y="345.7" font-size="12.3" fill="#1a1a1a" text-anchor="middle" font-weight="normal" textLength="64.1" lengthAdjust="spacingAndGlyphs"  stroke="#1a1a1a" stroke-width="0.16">MIN6 cells</text>
<rect x="687.9" y="427.7" width="26.2" height="77.9" fill="#8ebaf7"/>
<rect x="725.9" y="479.8" width="26.1" height="25.8" fill="#fdc285"/>
<line x1="675.3" y1="394.25" x2="675.3" y2="506.15000000000003" stroke="#1a1a1a" stroke-width="1.1" />
<line x1="669.5" y1="505.6" x2="843" y2="505.6" stroke="#1a1a1a" stroke-width="1.1" />
<line x1="669.5" y1="483.44" x2="675.3" y2="483.44" stroke="#1a1a1a" stroke-width="1.1" />
<line x1="669.5" y1="461.28000000000003" x2="675.3" y2="461.28000000000003" stroke="#1a1a1a" stroke-width="1.1" />
<line x1="669.5" y1="439.12" x2="675.3" y2="439.12" stroke="#1a1a1a" stroke-width="1.1" />
<line x1="669.5" y1="416.96000000000004" x2="675.3" y2="416.96000000000004" stroke="#1a1a1a" stroke-width="1.1" />
<line x1="669.5" y1="394.8" x2="675.3" y2="394.8" stroke="#1a1a1a" stroke-width="1.1" />
<text x="664.0" y="509.40000000000003" font-size="11" fill="#1a1a1a" text-anchor="end" font-weight="normal" textLength="7.2" lengthAdjust="spacingAndGlyphs"  stroke="#1a1a1a" stroke-width="0.16">0</text>
<text x="664.5" y="487.24" font-size="11" fill="#1a1a1a" text-anchor="end" font-weight="normal" textLength="11.9" lengthAdjust="spacingAndGlyphs"  stroke="#1a1a1a" stroke-width="0.16">10</text>
<text x="664.5" y="465.08000000000004" font-size="11" fill="#1a1a1a" text-anchor="end" font-weight="normal" textLength="14.5" lengthAdjust="spacingAndGlyphs"  stroke="#1a1a1a" stroke-width="0.16">20</text>
<text x="664.5" y="442.92" font-size="11" fill="#1a1a1a" text-anchor="end" font-weight="normal" textLength="14.5" lengthAdjust="spacingAndGlyphs"  stroke="#1a1a1a" stroke-width="0.16">30</text>
<text x="664.5" y="420.76000000000005" font-size="11" fill="#1a1a1a" text-anchor="end" font-weight="normal" textLength="14.5" lengthAdjust="spacingAndGlyphs"  stroke="#1a1a1a" stroke-width="0.16">40</text>
<text x="664.5" y="398.6" font-size="11" fill="#1a1a1a" text-anchor="end" font-weight="normal" textLength="14.5" lengthAdjust="spacingAndGlyphs"  stroke="#1a1a1a" stroke-width="0.16">50</text>
<line x1="700.7" y1="505.6" x2="700.7" y2="511.70000000000005" stroke="#1a1a1a" stroke-width="1.1" />
<line x1="739.2" y1="505.6" x2="739.2" y2="511.70000000000005" stroke="#1a1a1a" stroke-width="1.1" />
<line x1="777.5" y1="505.6" x2="777.5" y2="511.70000000000005" stroke="#1a1a1a" stroke-width="1.1" />
<line x1="815.8" y1="505.6" x2="815.8" y2="511.70000000000005" stroke="#1a1a1a" stroke-width="1.1" />
<text x="741.3" y="373.9" font-size="11" fill="#1a1a1a" text-anchor="middle" font-weight="normal" textLength="42.3" lengthAdjust="spacingAndGlyphs"  stroke="#1a1a1a" stroke-width="0.16">&lt;0.0001</text>
<line x1="700.9" y1="379" x2="777.6" y2="379" stroke="#2e2e2e" stroke-width="1.3" />
<text x="720.6" y="395.9" font-size="11" fill="#1a1a1a" text-anchor="middle" font-weight="normal" textLength="38.7" lengthAdjust="spacingAndGlyphs"  stroke="#1a1a1a" stroke-width="0.16">0.0002</text>
<line x1="700.9" y1="401.3" x2="739.2" y2="401.3" stroke="#2e2e2e" stroke-width="1.3" />
<text x="778.6" y="445.7" font-size="11" fill="#1a1a1a" text-anchor="middle" font-weight="normal" textLength="38.7" lengthAdjust="spacingAndGlyphs"  stroke="#1a1a1a" stroke-width="0.16">0.0210</text>
<line x1="739.4" y1="451.1" x2="815.8" y2="451.1" stroke="#2e2e2e" stroke-width="1.3" />
<text transform="translate(705.2,516.1) rotate(-90)" font-size="12.3" fill="#1a1a1a" text-anchor="end" textLength="19.6" lengthAdjust="spacingAndGlyphs" stroke="#1a1a1a" stroke-width="0.16">9B9</text>
<text transform="translate(743.7,516.1) rotate(-90)" font-size="12.3" fill="#1a1a1a" text-anchor="end" textLength="12.5" lengthAdjust="spacingAndGlyphs" stroke="#1a1a1a" stroke-width="0.16">S5</text>
<text transform="translate(782.0,516.1) rotate(-90)" font-size="12.3" fill="#1a1a1a" text-anchor="end" textLength="19.6" lengthAdjust="spacingAndGlyphs" stroke="#1a1a1a" stroke-width="0.16">9B9</text>
<text transform="translate(820.3,516.1) rotate(-90)" font-size="12.3" fill="#1a1a1a" text-anchor="end" textLength="12.5" lengthAdjust="spacingAndGlyphs" stroke="#1a1a1a" stroke-width="0.16">S5</text>
<line x1="692.9000000000001" y1="544.9" x2="748.7" y2="544.9" stroke="#8babdf" stroke-width="1.4" />
<line x1="771.7" y1="544.9" x2="827.1999999999999" y2="544.9" stroke="#8babdf" stroke-width="1.4" />
<text x="720.6" y="558.6" font-size="12.3" fill="#1a1a1a" text-anchor="middle" font-weight="normal" textLength="65.5" lengthAdjust="spacingAndGlyphs"  stroke="#1a1a1a" stroke-width="0.16">Crinosome</text>
<text x="720.6" y="574.3" font-size="12.3" fill="#1a1a1a" text-anchor="middle" font-weight="normal" textLength="46" lengthAdjust="spacingAndGlyphs"  stroke="#1a1a1a" stroke-width="0.16">fraction</text>
<text x="799.3" y="558.6" font-size="12.3" fill="#1a1a1a" text-anchor="middle" font-weight="normal" textLength="27.5" lengthAdjust="spacingAndGlyphs"  stroke="#1a1a1a" stroke-width="0.16">DCG</text>
<text x="799.3" y="574.3" font-size="12.3" fill="#1a1a1a" text-anchor="middle" font-weight="normal" textLength="46" lengthAdjust="spacingAndGlyphs"  stroke="#1a1a1a" stroke-width="0.16">fraction</text>
<text transform="translate(639.6,450.3) rotate(-90)" font-size="12.3" fill="#1a1a1a" text-anchor="middle" textLength="70" lengthAdjust="spacingAndGlyphs" stroke="#1a1a1a" stroke-width="0.16">IL-2 (U ml<tspan font-size="8" dy="-4.8">&#8722;1</tspan><tspan dy="4.8" font-size="1">&#8203;</tspan>)</text>
<line x1="700.7" y1="418.4" x2="700.7" y2="438" stroke="#111" stroke-width="1.1" />
<line x1="694.6" y1="418.4" x2="706.8000000000001" y2="418.4" stroke="#111" stroke-width="1.1" />
<line x1="694.6" y1="438" x2="706.8000000000001" y2="438" stroke="#111" stroke-width="1.1" />
<circle cx="692.4" cy="415.3" r="4.1" fill="#559EF4" stroke="#0a0a0a" stroke-width="1.25" />
<circle cx="709.4" cy="408.0" r="4.1" fill="#559EF4" stroke="#0a0a0a" stroke-width="1.25" />
<circle cx="700.7" cy="438.9" r="4.1" fill="#559EF4" stroke="#0a0a0a" stroke-width="1.25" />
<circle cx="700.7" cy="449.2" r="4.1" fill="#559EF4" stroke="#0a0a0a" stroke-width="1.25" />
<line x1="739.4" y1="473.6" x2="739.4" y2="486" stroke="#111" stroke-width="1.1" />
<line x1="733.3" y1="473.6" x2="745.5" y2="473.6" stroke="#111" stroke-width="1.1" />
<line x1="733.3" y1="486" x2="745.5" y2="486" stroke="#111" stroke-width="1.1" />
<rect x="735.3" y="458.1" width="8.2" height="8.2" fill="#FC680C" stroke="#0a0a0a" stroke-width="1.25"/>
<rect x="735.3" y="477.8" width="8.2" height="8.2" fill="#FC680C" stroke="#0a0a0a" stroke-width="1.25"/>
<rect x="726.6" y="483.6" width="8.2" height="8.2" fill="#FC680C" stroke="#0a0a0a" stroke-width="1.25"/>
<rect x="743.8" y="481.9" width="8.2" height="8.2" fill="#FC680C" stroke="#0a0a0a" stroke-width="1.25"/>
<circle cx="769.2" cy="505.6" r="4.1" fill="#559EF4" stroke="#0a0a0a" stroke-width="1.25" />
<circle cx="786.4" cy="496.8" r="4.1" fill="#559EF4" stroke="#0a0a0a" stroke-width="1.25" />
<circle cx="777.8" cy="502.0" r="4.1" fill="#559EF4" stroke="#0a0a0a" stroke-width="1.25" />
<circle cx="786.4" cy="505.9" r="4.1" fill="#559EF4" stroke="#0a0a0a" stroke-width="1.25" />
<rect x="803.6" y="501.8" width="8.2" height="8.2" fill="#FC680C" stroke="#0a0a0a" stroke-width="1.25"/>
<rect x="809.5" y="501.0" width="8.2" height="8.2" fill="#FC680C" stroke="#0a0a0a" stroke-width="1.25"/>
<rect x="815.5" y="502.2" width="8.2" height="8.2" fill="#FC680C" stroke="#0a0a0a" stroke-width="1.25"/>
<rect x="820.9" y="501.8" width="8.2" height="8.2" fill="#FC680C" stroke="#0a0a0a" stroke-width="1.25"/>
<rect x="902.1" y="324.3" width="127.9" height="31.9" fill="#d4d4d4" stroke="#222" stroke-width="1.2"/>
<text x="967.45" y="345.7" font-size="12.3" fill="#1a1a1a" text-anchor="middle" font-weight="normal" textLength="95.2" lengthAdjust="spacingAndGlyphs"  stroke="#1a1a1a" stroke-width="0.16">B6 mouse islets</text>
<rect x="894" y="417.1" width="26.1" height="88.5" fill="#8ebaf7"/>
<rect x="932.9" y="463.3" width="25.9" height="42.3" fill="#fdc285"/>
<line x1="882.1" y1="394.25" x2="882.1" y2="506.15000000000003" stroke="#1a1a1a" stroke-width="1.1" />
<line x1="876.3000000000001" y1="505.6" x2="1049.7" y2="505.6" stroke="#1a1a1a" stroke-width="1.1" />
<line x1="876.3000000000001" y1="483.44" x2="882.1" y2="483.44" stroke="#1a1a1a" stroke-width="1.1" />
<line x1="876.3000000000001" y1="461.28000000000003" x2="882.1" y2="461.28000000000003" stroke="#1a1a1a" stroke-width="1.1" />
<line x1="876.3000000000001" y1="439.12" x2="882.1" y2="439.12" stroke="#1a1a1a" stroke-width="1.1" />
<line x1="876.3000000000001" y1="416.96000000000004" x2="882.1" y2="416.96000000000004" stroke="#1a1a1a" stroke-width="1.1" />
<line x1="876.3000000000001" y1="394.8" x2="882.1" y2="394.8" stroke="#1a1a1a" stroke-width="1.1" />
<text x="870.8000000000001" y="509.40000000000003" font-size="11" fill="#1a1a1a" text-anchor="end" font-weight="normal" textLength="7.2" lengthAdjust="spacingAndGlyphs"  stroke="#1a1a1a" stroke-width="0.16">0</text>
<text x="871.3000000000001" y="487.24" font-size="11" fill="#1a1a1a" text-anchor="end" font-weight="normal" textLength="7.2" lengthAdjust="spacingAndGlyphs"  stroke="#1a1a1a" stroke-width="0.16">5</text>
<text x="871.3000000000001" y="465.08000000000004" font-size="11" fill="#1a1a1a" text-anchor="end" font-weight="normal" textLength="11.9" lengthAdjust="spacingAndGlyphs"  stroke="#1a1a1a" stroke-width="0.16">10</text>
<text x="871.3000000000001" y="442.92" font-size="11" fill="#1a1a1a" text-anchor="end" font-weight="normal" textLength="11.9" lengthAdjust="spacingAndGlyphs"  stroke="#1a1a1a" stroke-width="0.16">15</text>
<text x="871.3000000000001" y="420.76000000000005" font-size="11" fill="#1a1a1a" text-anchor="end" font-weight="normal" textLength="14.5" lengthAdjust="spacingAndGlyphs"  stroke="#1a1a1a" stroke-width="0.16">20</text>
<text x="871.3000000000001" y="398.6" font-size="11" fill="#1a1a1a" text-anchor="end" font-weight="normal" textLength="14.5" lengthAdjust="spacingAndGlyphs"  stroke="#1a1a1a" stroke-width="0.16">25</text>
<line x1="907.2" y1="505.6" x2="907.2" y2="511.70000000000005" stroke="#1a1a1a" stroke-width="1.1" />
<line x1="945.8" y1="505.6" x2="945.8" y2="511.70000000000005" stroke="#1a1a1a" stroke-width="1.1" />
<line x1="984.2" y1="505.6" x2="984.2" y2="511.70000000000005" stroke="#1a1a1a" stroke-width="1.1" />
<line x1="1022.6" y1="505.6" x2="1022.6" y2="511.70000000000005" stroke="#1a1a1a" stroke-width="1.1" />
<text x="947.5" y="372.6" font-size="11" fill="#1a1a1a" text-anchor="middle" font-weight="normal" textLength="42.3" lengthAdjust="spacingAndGlyphs"  stroke="#1a1a1a" stroke-width="0.16">&lt;0.0001</text>
<line x1="907.5" y1="377.9" x2="984.2" y2="377.9" stroke="#2e2e2e" stroke-width="1.3" />
<text x="928.3" y="390" font-size="11" fill="#1a1a1a" text-anchor="middle" font-weight="normal" textLength="36.5" lengthAdjust="spacingAndGlyphs"  stroke="#1a1a1a" stroke-width="0.16">0.0001</text>
<line x1="907.5" y1="395.7" x2="945.8" y2="395.7" stroke="#2e2e2e" stroke-width="1.3" />
<text x="984.4" y="445.7" font-size="11" fill="#1a1a1a" text-anchor="middle" font-weight="normal" textLength="38.7" lengthAdjust="spacingAndGlyphs"  stroke="#1a1a1a" stroke-width="0.16">0.0009</text>
<line x1="946" y1="450.9" x2="1022.9" y2="450.9" stroke="#2e2e2e" stroke-width="1.3" />
<text transform="translate(911.7,516.1) rotate(-90)" font-size="12.3" fill="#1a1a1a" text-anchor="end" textLength="19.6" lengthAdjust="spacingAndGlyphs" stroke="#1a1a1a" stroke-width="0.16">9B9</text>
<text transform="translate(950.3,516.1) rotate(-90)" font-size="12.3" fill="#1a1a1a" text-anchor="end" textLength="12.5" lengthAdjust="spacingAndGlyphs" stroke="#1a1a1a" stroke-width="0.16">S5</text>
<text transform="translate(988.7,516.1) rotate(-90)" font-size="12.3" fill="#1a1a1a" text-anchor="end" textLength="19.6" lengthAdjust="spacingAndGlyphs" stroke="#1a1a1a" stroke-width="0.16">9B9</text>
<text transform="translate(1027.1,516.1) rotate(-90)" font-size="12.3" fill="#1a1a1a" text-anchor="end" textLength="12.5" lengthAdjust="spacingAndGlyphs" stroke="#1a1a1a" stroke-width="0.16">S5</text>
<line x1="899.4000000000001" y1="544.9" x2="955.3" y2="544.9" stroke="#8babdf" stroke-width="1.4" />
<line x1="978.4000000000001" y1="544.9" x2="1034.0" y2="544.9" stroke="#8babdf" stroke-width="1.4" />
<text x="926.5" y="558.6" font-size="12.3" fill="#1a1a1a" text-anchor="middle" font-weight="normal" textLength="65.5" lengthAdjust="spacingAndGlyphs"  stroke="#1a1a1a" stroke-width="0.16">Crinosome</text>
<text x="926.5" y="574.3" font-size="12.3" fill="#1a1a1a" text-anchor="middle" font-weight="normal" textLength="46" lengthAdjust="spacingAndGlyphs"  stroke="#1a1a1a" stroke-width="0.16">fraction</text>
<text x="1005.2" y="558.6" font-size="12.3" fill="#1a1a1a" text-anchor="middle" font-weight="normal" textLength="27.5" lengthAdjust="spacingAndGlyphs"  stroke="#1a1a1a" stroke-width="0.16">DCG</text>
<text x="1005.2" y="574.3" font-size="12.3" fill="#1a1a1a" text-anchor="middle" font-weight="normal" textLength="46" lengthAdjust="spacingAndGlyphs"  stroke="#1a1a1a" stroke-width="0.16">fraction</text>
<line x1="907.5" y1="411.6" x2="907.5" y2="422.5" stroke="#111" stroke-width="1.1" />
<line x1="901.4" y1="411.6" x2="913.6" y2="411.6" stroke="#111" stroke-width="1.1" />
<line x1="901.4" y1="422.5" x2="913.6" y2="422.5" stroke="#111" stroke-width="1.1" />
<circle cx="907.5" cy="402.7" r="4.1" fill="#559EF4" stroke="#0a0a0a" stroke-width="1.25" />
<circle cx="898.8" cy="416.3" r="4.1" fill="#559EF4" stroke="#0a0a0a" stroke-width="1.25" />
<circle cx="916.0" cy="419.4" r="4.1" fill="#559EF4" stroke="#0a0a0a" stroke-width="1.25" />
<circle cx="907.5" cy="430.2" r="4.1" fill="#559EF4" stroke="#0a0a0a" stroke-width="1.25" />
<line x1="945.3" y1="461.6" x2="945.3" y2="464.9" stroke="#111" stroke-width="1.1" />
<line x1="939.1999999999999" y1="461.6" x2="951.4" y2="461.6" stroke="#111" stroke-width="1.1" />
<line x1="939.1999999999999" y1="464.9" x2="951.4" y2="464.9" stroke="#111" stroke-width="1.1" />
<rect x="933.4" y="454.6" width="8.2" height="8.2" fill="#FC680C" stroke="#0a0a0a" stroke-width="1.25"/>
<rect x="933.4" y="463.3" width="8.2" height="8.2" fill="#FC680C" stroke="#0a0a0a" stroke-width="1.25"/>
<rect x="944.4" y="459.8" width="8.2" height="8.2" fill="#FC680C" stroke="#0a0a0a" stroke-width="1.25"/>
<rect x="950.6" y="458.1" width="8.2" height="8.2" fill="#FC680C" stroke="#0a0a0a" stroke-width="1.25"/>
<rect x="971.6" y="495.2" width="25.4" height="6.4" fill="#b7d3fa"/>
<path d="M971.6 505 V495.5 H997 V505" fill="none" stroke="#8fbbf5" stroke-width="0.8"/>
<rect x="1010.3" y="499.3" width="24.9" height="2.3" fill="#fddcc3"/>
<path d="M1010.3 505 V499.3 H1035.2 V505" fill="none" stroke="#f47b30" stroke-width="0.9"/>
<line x1="984.2" y1="489.1" x2="984.2" y2="501.9" stroke="#111" stroke-width="1.1" />
<line x1="978.1" y1="489.1" x2="990.3000000000001" y2="489.1" stroke="#111" stroke-width="1.1" />
<line x1="978.1" y1="501.9" x2="990.3000000000001" y2="501.9" stroke="#111" stroke-width="1.1" />
<circle cx="984.2" cy="478.2" r="4.1" fill="#559EF4" stroke="#0a0a0a" stroke-width="1.25" />
<circle cx="975.8" cy="496.8" r="4.1" fill="#559EF4" stroke="#0a0a0a" stroke-width="1.25" />
<circle cx="992.9" cy="500.5" r="4.1" fill="#559EF4" stroke="#0a0a0a" stroke-width="1.25" />
<circle cx="975.8" cy="505.3" r="4.1" fill="#559EF4" stroke="#0a0a0a" stroke-width="1.25" />
<line x1="1022.6" y1="494.1" x2="1022.6" y2="503.5" stroke="#111" stroke-width="1.1" />
<line x1="1018.0" y1="494.1" x2="1027.2" y2="494.1" stroke="#111" stroke-width="1.1" />
<line x1="1018.0" y1="503.5" x2="1027.2" y2="503.5" stroke="#111" stroke-width="1.1" />
<rect x="1010.6" y="487.3" width="8.2" height="8.2" fill="#FC680C" stroke="#0a0a0a" stroke-width="1.25"/>
<rect x="1027.5" y="486.3" width="8.2" height="8.2" fill="#FC680C" stroke="#0a0a0a" stroke-width="1.25"/>
<rect x="1010.6" y="501.2" width="8.2" height="8.2" fill="#FC680C" stroke="#0a0a0a" stroke-width="1.25"/>
<rect x="1027.5" y="501.2" width="8.2" height="8.2" fill="#FC680C" stroke="#0a0a0a" stroke-width="1.25"/>
</svg></body></html>
